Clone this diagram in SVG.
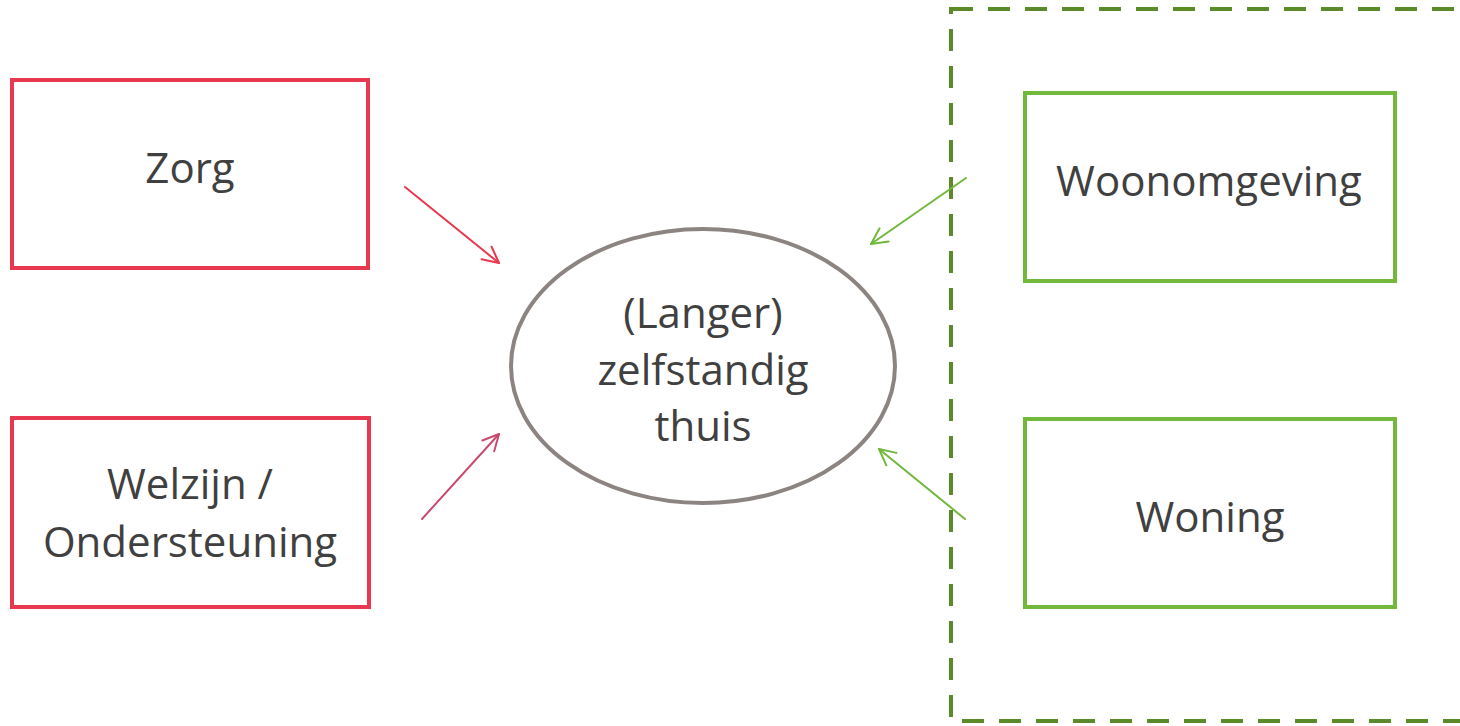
<svg xmlns="http://www.w3.org/2000/svg" width="1460" height="726" viewBox="0 0 1460 726">
<style>
.t{font-family:"Open Sans","Liberation Sans",sans-serif;font-size:42px;fill:#404040;text-anchor:middle}
.red{fill:none;stroke:#E8384F;stroke-width:4}
.grn{fill:none;stroke:#72B83B;stroke-width:4}
.c{fill:none;stroke-width:2;stroke-linecap:round}
</style>
<defs>
<marker id="ahr" viewBox="0 0 20 20" refX="18" refY="10" markerWidth="20" markerHeight="20" markerUnits="userSpaceOnUse" orient="auto">
<path d="M2,2 L18,10 L2,18" fill="none" stroke="#E8384F" stroke-width="2" stroke-linecap="round" stroke-linejoin="round"/>
</marker>
<marker id="ahp" viewBox="0 0 20 20" refX="18" refY="10" markerWidth="20" markerHeight="20" markerUnits="userSpaceOnUse" orient="auto">
<path d="M2,2 L18,10 L2,18" fill="none" stroke="#C84B6E" stroke-width="2" stroke-linecap="round" stroke-linejoin="round"/>
</marker>
<marker id="ahg" viewBox="0 0 20 20" refX="18" refY="10" markerWidth="20" markerHeight="20" markerUnits="userSpaceOnUse" orient="auto">
<path d="M2,2 L18,10 L2,18" fill="none" stroke="#72B83B" stroke-width="2" stroke-linecap="round" stroke-linejoin="round"/>
</marker>
</defs>
<rect width="1460" height="726" fill="#fff"/>
<g id="group-woon">
<rect x="951" y="9" width="530" height="712" fill="none" stroke="#5A8A2A" stroke-width="4" stroke-dasharray="22 15"/>
</g>
<g id="zorg">
<rect class="red" x="12" y="80" width="356" height="188"/>
<text class="t" x="190" y="183">Zorg</text>
</g>
<g id="welzijn">
<rect class="red" x="12" y="418" width="357" height="189"/>
<text class="t" x="190" y="499">Welzijn /</text>
<text class="t" x="190" y="557">Ondersteuning</text>
</g>
<g id="thuis">
<ellipse cx="703" cy="366" rx="192" ry="137" fill="none" stroke="#8C8480" stroke-width="4"/>
<text class="t" x="703" y="328">(Langer)</text>
<text class="t" x="703" y="385">zelfstandig</text>
<text class="t" x="703" y="441">thuis</text>
</g>
<g id="woonomgeving">
<rect class="grn" x="1025" y="93" width="370" height="188"/>
<text class="t" x="1209" y="196">Woonomgeving</text>
</g>
<g id="woning">
<rect class="grn" x="1025" y="419" width="370" height="188"/>
<text class="t" x="1210" y="532">Woning</text>
</g>
<g id="connectors">
<line class="c" x1="405" y1="187" x2="499" y2="263" stroke="#E8384F" marker-end="url(#ahr)"/>
<line class="c" x1="422" y1="519" x2="499" y2="434" stroke="#C84B6E" marker-end="url(#ahp)"/>
<line class="c" x1="966" y1="178" x2="871" y2="244" stroke="#72B83B" marker-end="url(#ahg)"/>
<line class="c" x1="965" y1="519" x2="879" y2="449" stroke="#72B83B" marker-end="url(#ahg)"/>
</g>
</svg>
